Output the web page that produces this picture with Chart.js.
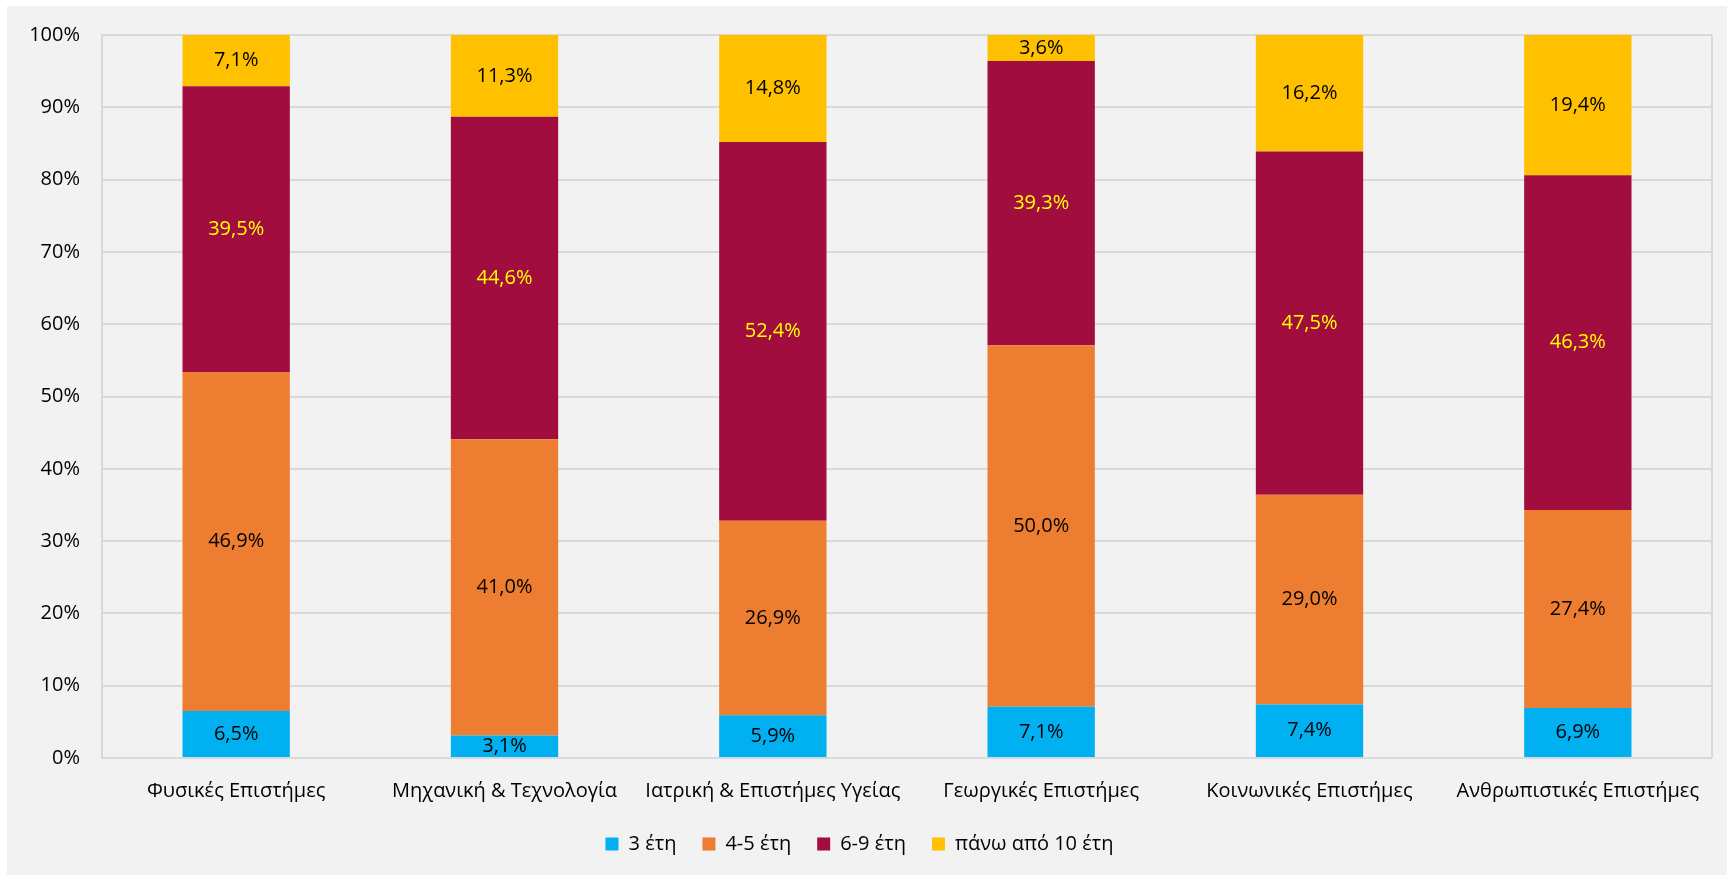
<!DOCTYPE html>
<html>
<head>
<meta charset="utf-8">
<script src="https://cdn.jsdelivr.net/npm/chart.js@4"></script>
<style>
  html, body { margin: 0; padding: 0; background: #ffffff; }
  #wrap { position: absolute; left: 7px; top: 6px; width: 1720px; height: 869px; background: #f2f2f2; }
  canvas { display: block; }
</style>
</head>
<body>
<div id="wrap"><canvas id="c" width="1720" height="869"></canvas></div>
<script>
const categories = ["Φυσικές Επιστήμες", "Μηχανική & Τεχνολογία", "Ιατρική & Επιστήμες Υγείας", "Γεωργικές Επιστήμες", "Κοινωνικές Επιστήμες", "Ανθρωπιστικές Επιστήμες"];
const seriesNames = ["3 έτη", "4-5 έτη", "6-9 έτη", "πάνω από 10 έτη"];
const years3 = [6.5, 3.1, 5.9, 7.1, 7.4, 6.9];
const years4to5 = [46.9, 41.0, 26.9, 50.0, 29.0, 27.4];
const years6to9 = [39.5, 44.6, 52.4, 39.3, 47.5, 46.3];
const over10 = [7.1, 11.3, 14.8, 3.6, 16.2, 19.4];
const yTicks = [0, 10, 20, 30, 40, 50, 60, 70, 80, 90, 100];

const colors = ["#00B0F0", "#ED7D31", "#A20D3F", "#FFC000"];
const labelColors = ["#000000", "#000000", "#FFFF00", "#000000"];
const FONT = '"Open Sans", "Noto Sans", sans-serif';
const FS = 20;

const labelPlugin = {
  id: 'segLabels',
  afterDatasetsDraw(chart) {
    const ctx = chart.ctx;
    ctx.save();
    ctx.font = FS + 'px ' + FONT;
    ctx.textAlign = 'center';
    ctx.textBaseline = 'middle';
    chart.data.datasets.forEach((ds, di) => {
      const meta = chart.getDatasetMeta(di);
      meta.data.forEach((el, i) => {
        const v = ds.data[i];
        const top = Math.max(el.y, chart.chartArea.top);
        const y = (top + el.base) / 2;
        ctx.fillStyle = labelColors[di];
        ctx.fillText(v.toFixed(1).replace('.', ',') + '%', el.x, y);
      });
    });
    ctx.restore();
  }
};

const borderPlugin = {
  id: 'rightBorder',
  beforeDatasetsDraw(chart) {
    const a = chart.chartArea;
    const ctx = chart.ctx;
    ctx.save();
    ctx.strokeStyle = '#d9d9d9';
    ctx.lineWidth = 2;
    ctx.beginPath();
    ctx.moveTo(a.right, a.top);
    ctx.lineTo(a.right, a.bottom);
    ctx.stroke();
    ctx.restore();
  }
};

const dataArrays = [years3, years4to5, years6to9, over10];

new Chart(document.getElementById('c'), {
  type: 'bar',
  data: {
    labels: categories,
    datasets: dataArrays.map((arr, i) => ({
      label: seriesNames[i],
      data: arr,
      backgroundColor: colors[i],
      borderWidth: 0,
      barPercentage: 0.4,
      categoryPercentage: 1.0
    }))
  },
  options: {
    responsive: false,
    animation: false,
    events: [],
    layout: { padding: { top: 29, right: 15, left: 0, bottom: 11 } },
    scales: {
      x: {
        stacked: true,
        grid: { display: false, drawTicks: false },
        border: { display: false },
        ticks: { color: '#000', font: { family: FONT, size: FS }, padding: 21, maxRotation: 0, autoSkip: false },
        afterFit(s) { s.height = 50; }
      },
      y: {
        stacked: true,
        min: 0,
        max: 100,
        afterBuildTicks(s) { s.ticks = yTicks.map(v => ({ value: v })); },
        grid: { color: '#d9d9d9', lineWidth: 2, drawTicks: false },
        border: { display: true, color: '#d9d9d9', width: 2 },
        ticks: { color: '#000', font: { family: FONT, size: FS }, padding: 22, callback: v => v + '%' },
        afterFit(s) { s.width = 95; s.paddingTop = 0; s.paddingBottom = 0; }
      }
    },
    plugins: {
      tooltip: { enabled: false },
      legend: {
        position: 'bottom',
        labels: {
          color: '#000',
          font: { family: FONT, size: FS },
          boxWidth: 13,
          boxHeight: 13,
          padding: 26
        }
      }
    }
  },
  plugins: [labelPlugin, borderPlugin]
});
</script>
</body>
</html>
